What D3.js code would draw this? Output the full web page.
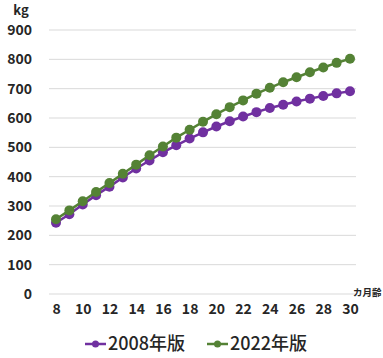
<!DOCTYPE html>
<html>
<head>
<meta charset="utf-8">
<script src="https://cdn.jsdelivr.net/npm/d3@7"></script>
<style>
  html, body { margin: 0; padding: 0; background: #fff; }
  svg { display: block; }
  text { font-family: "Noto Sans CJK JP", "Noto Sans", sans-serif; fill: #262626; }
</style>
</head>
<body>
<svg id="chart" width="383" height="358"></svg>
<script>
// Body weight by age in months, two editions of the standard
const months = d3.range(8, 31);
const weights2008 = [243, 272, 305, 337, 366, 397, 428, 455, 483, 507, 530, 551, 571, 589, 605, 620, 634, 645, 656, 666, 675, 684, 691];
const weights2022 = [255, 285, 316, 348, 378, 410, 441, 473, 503, 533, 560, 587, 613, 637, 660, 683, 703, 722, 739, 756, 772, 788, 802];
const yTicks = [0, 100, 200, 300, 400, 500, 600, 700, 800, 900];
const xTicks = [8, 10, 12, 14, 16, 18, 20, 22, 24, 26, 28, 30];
const seriesNames = ["2008年版", "2022年版"];
const seriesColors = ["#7030A0", "#548235"];

const svg = d3.select("#chart");

const x = d3.scaleLinear().domain([8, 30]).range([56, 350]);
const y = d3.scaleLinear().domain([0, 900]).range([294, 30]);

// horizontal gridlines
svg.append("g")
  .selectAll("line")
  .data(yTicks)
  .join("line")
  .attr("x1", 49).attr("x2", 356)
  .attr("y1", d => y(d)).attr("y2", d => y(d))
  .attr("stroke", "#d9d9d9").attr("stroke-width", 1);

// y axis labels
const yAxis = svg.append("g")
  .attr("transform", "translate(32,0)")
  .call(d3.axisLeft(y).tickValues(yTicks).tickSize(0).tickPadding(0));
yAxis.select(".domain").remove();
yAxis.selectAll("text")
  .attr("font-size", 14).attr("font-weight", 600)
  .style("font-family", "'Noto Sans CJK JP', 'Noto Sans', sans-serif")
  .attr("fill", "#262626");

// x axis labels
const xAxis = svg.append("g")
  .attr("transform", "translate(0,304)")
  .call(d3.axisBottom(x).tickValues(xTicks).tickSize(0).tickPadding(0));
xAxis.select(".domain").remove();
xAxis.selectAll("text")
  .attr("font-size", 14).attr("font-weight", 600)
  .style("font-family", "'Noto Sans CJK JP', 'Noto Sans', sans-serif")
  .attr("fill", "#262626");

// unit labels
svg.append("text").attr("x", 21).attr("y", 15).attr("text-anchor", "middle")
  .attr("font-size", 13).attr("font-weight", 600).text("kg");
svg.append("text").attr("x", 353).attr("y", 296)
  .attr("font-size", 9.5).attr("font-weight", 600).text("カ月齢");

// series
const series = [weights2008, weights2022];
const line = d3.line().x((d, i) => x(months[i])).y(d => y(d));

series.forEach((vals, s) => {
  const g = svg.append("g");
  g.append("path")
    .datum(vals)
    .attr("d", line)
    .attr("fill", "none")
    .attr("stroke", seriesColors[s])
    .attr("stroke-width", 2.5);
  g.selectAll("circle")
    .data(vals)
    .join("circle")
    .attr("cx", (d, i) => x(months[i]))
    .attr("cy", d => y(d))
    .attr("r", 5)
    .attr("fill", seriesColors[s]);
});

// legend
const legendX = [85, 207];
seriesNames.forEach((name, s) => {
  const g = svg.append("g").attr("transform", `translate(${legendX[s]},344)`);
  g.append("line").attr("x1", 0).attr("x2", 21).attr("y1", 0).attr("y2", 0)
    .attr("stroke", seriesColors[s]).attr("stroke-width", 2.5);
  g.append("circle").attr("cx", 10.5).attr("cy", 0).attr("r", 3.5).attr("fill", seriesColors[s]);
  g.append("text").attr("x", 23).attr("y", 0).attr("dy", "0.35em")
    .attr("font-size", 18).attr("font-weight", 500).text(name);
});
</script>
</body>
</html>
